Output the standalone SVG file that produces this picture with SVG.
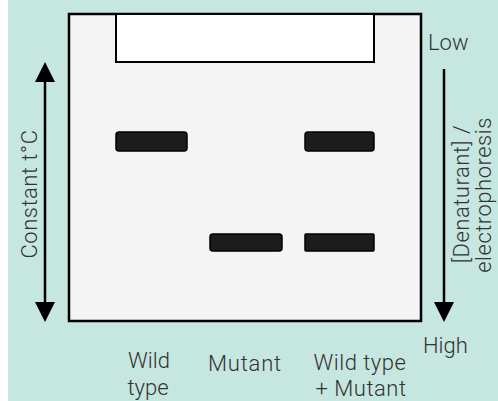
<svg xmlns="http://www.w3.org/2000/svg" width="498" height="401" viewBox="0 0 498 401">
<style>
text{font-family:Roboto,"Liberation Sans",sans-serif;font-weight:300;font-size:22px;fill:#333}
.band{fill:#1c1c1c;stroke:#000;stroke-width:1.5}
.axis{stroke:#000;stroke-width:2.5;fill:none}
</style>
<defs>
<marker id="ah" viewBox="0 0 20 20" refX="0" refY="10" markerWidth="20" markerHeight="20" markerUnits="userSpaceOnUse" orient="auto-start-reverse">
<path d="M0,0 L20,10 L0,20 Z" fill="#000"/>
</marker>
</defs>
<rect x="0" y="0" width="498" height="401" fill="#ffffff"/>
<rect x="8" y="0" width="490" height="401" fill="#c6e6e0"/>
<g id="gel">
<rect x="69" y="14" width="352" height="307" fill="#f4f4f4" stroke="#000" stroke-width="2.5"/>
<rect x="116" y="14" width="258" height="48" fill="#ffffff" stroke="#000" stroke-width="2"/>
</g>
<g id="bands">
<rect class="band" x="116" y="132" width="71" height="19" rx="3"/>
<rect class="band" x="305" y="132" width="69" height="19" rx="3"/>
<rect class="band" x="210" y="234" width="72" height="17" rx="3"/>
<rect class="band" x="305" y="234" width="69" height="17" rx="1"/>
</g>
<g id="connectors">
<line class="axis" x1="45" y1="82" x2="45" y2="302" marker-start="url(#ah)" marker-end="url(#ah)"/>
<line class="axis" x1="444" y1="69" x2="444" y2="302" marker-end="url(#ah)"/>
</g>
<g id="left-label">
<text transform="translate(37,194) rotate(-90)" text-anchor="middle" letter-spacing="0.5">Constant t°C</text>
</g>
<g id="right-label">
<text x="428" y="50">Low</text>
<text x="423" y="353">High</text>
<text transform="translate(469,194) rotate(-90)" text-anchor="middle" letter-spacing="0.5">[Denaturant] /</text>
<text transform="translate(491,195) rotate(-90)" text-anchor="middle" letter-spacing="0.5">electrophoresis</text>
</g>
<g id="lane-labels">
<text x="149" y="368" text-anchor="middle">Wild</text>
<text x="148" y="395" text-anchor="middle">type</text>
<text x="245" y="371" text-anchor="middle" letter-spacing="0.8">Mutant</text>
<text x="360" y="370" text-anchor="middle" letter-spacing="0.5">Wild type</text>
<text x="361" y="396" text-anchor="middle" letter-spacing="0.5">+ Mutant</text>
</g>
</svg>
